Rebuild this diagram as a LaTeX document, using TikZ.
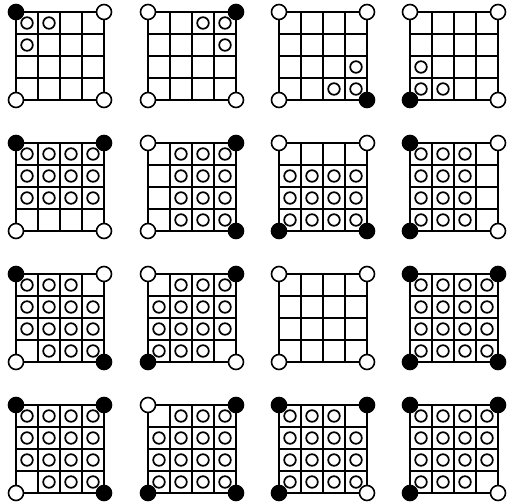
\documentclass[tikz,border=0pt]{standalone}
\usepackage{tikz}

% one 4x4 board: #1,#2 = top left corner, #3..#6 = fill of the corners TL, TR, BL, BR
\newcommand{\board}[6]{%
  \begin{scope}[shift={(#1,#2)}]
    \foreach \k in {22,44,66} {
      \draw[inner] (\k,0) -- (\k,88);
      \draw[inner] (0,\k) -- (88,\k);
    }
    \draw[outer] (0,0) rectangle (88,88);
    \draw[corner, fill=#3] (0,0) circle[radius=7.5pt];
    \draw[corner, fill=#4] (88,0) circle[radius=7.5pt];
    \draw[corner, fill=#5] (0,88) circle[radius=7.5pt];
    \draw[corner, fill=#6] (88,88) circle[radius=7.5pt];
  \end{scope}}

% small rings in the cells row/column of a board at #1,#2
\newcommand{\stones}[3]{%
  \foreach \r/\c in {#3}
    \draw[stone] ({#1+22*\c-11},{#2+22*\r-11}) circle[radius=5.8pt];}

\begin{document}
\begin{tikzpicture}[
    x=1pt, y=-1pt,
    inner/.style={line width=1.5pt},
    outer/.style={line width=2pt},
    corner/.style={line width=1.6pt},
    stone/.style={line width=1.7pt}
]
\useasboundingbox (0,0) rectangle (511,503);

% Fila 1
\board{16}{12}{black}{white}{white}{white}
\stones{16}{12}{1/1,1/2,2/1}
\board{148}{12}{white}{black}{white}{white}
\stones{148}{12}{1/3,1/4,2/4}
\board{279}{12}{white}{white}{white}{black}
\stones{279}{12}{3/4,4/3,4/4}
\board{410}{12}{white}{white}{black}{white}
\stones{410}{12}{3/1,4/1,4/2}

% Fila 2
\board{16}{143}{black}{black}{white}{white}
\stones{16}{143}{1/1,1/2,1/3,1/4,2/1,2/2,2/3,2/4,3/1,3/2,3/3,3/4}
\board{148}{143}{white}{black}{white}{black}
\stones{148}{143}{1/2,1/3,1/4,2/2,2/3,2/4,3/2,3/3,3/4,4/2,4/3,4/4}
\board{279}{143}{white}{white}{black}{black}
\stones{279}{143}{2/1,2/2,2/3,2/4,3/1,3/2,3/3,3/4,4/1,4/2,4/3,4/4}
\board{410}{143}{black}{white}{black}{white}
\stones{410}{143}{1/1,1/2,1/3,2/1,2/2,2/3,3/1,3/2,3/3,4/1,4/2,4/3}

% Fila 3
\board{16}{274}{black}{white}{white}{black}
\stones{16}{274}{1/1,1/2,1/3,2/1,2/2,2/3,2/4,3/1,3/2,3/3,3/4,4/2,4/3,4/4}
\board{148}{274}{white}{black}{black}{white}
\stones{148}{274}{1/2,1/3,1/4,2/1,2/2,2/3,2/4,3/1,3/2,3/3,3/4,4/1,4/2,4/3}
\board{279}{274}{white}{white}{white}{white}
\board{410}{274}{black}{black}{black}{black}
\stones{410}{274}{1/1,1/2,1/3,1/4,2/1,2/2,2/3,2/4,3/1,3/2,3/3,3/4,4/1,4/2,4/3,4/4}

% Fila 4
\board{16}{405}{black}{black}{white}{black}
\stones{16}{405}{1/1,1/2,1/3,1/4,2/1,2/2,2/3,2/4,3/1,3/2,3/3,3/4,4/2,4/3,4/4}
\board{148}{405}{white}{black}{black}{black}
\stones{148}{405}{1/2,1/3,1/4,2/1,2/2,2/3,2/4,3/1,3/2,3/3,3/4,4/1,4/2,4/3,4/4}
\board{279}{405}{black}{black}{black}{white}
\stones{279}{405}{1/1,1/2,1/3,2/1,2/2,2/3,2/4,3/1,3/2,3/3,3/4,4/1,4/2,4/3,4/4}
\board{410}{405}{black}{black}{black}{white}
\stones{410}{405}{1/1,1/2,1/3,1/4,2/1,2/2,2/3,2/4,3/1,3/2,3/3,3/4,4/1,4/2,4/3}

\end{tikzpicture}
\end{document}
